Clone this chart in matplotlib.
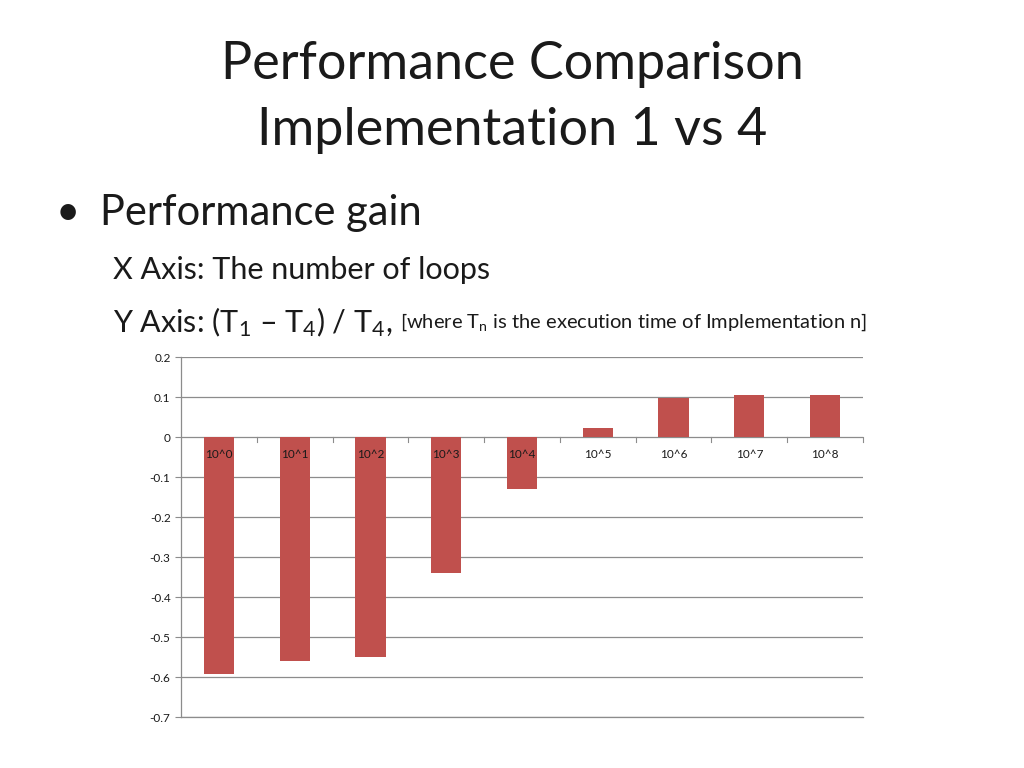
import numpy as np
import matplotlib
matplotlib.use("Agg")
import matplotlib.pyplot as plt

plt.rcParams["font.family"] = ["Lato", "DejaVu Sans"]
plt.rcParams["mathtext.fontset"] = "custom"
plt.rcParams["mathtext.rm"] = "Lato"
plt.rcParams["mathtext.it"] = "Lato"

# data
categories = ["10^0", "10^1", "10^2", "10^3", "10^4", "10^5", "10^6", "10^7", "10^8"]
gain = [-0.592, -0.561, -0.550, -0.340, -0.131, 0.022, 0.097, 0.105, 0.105]
yticks = [0.2, 0.1, 0, -0.1, -0.2, -0.3, -0.4, -0.5, -0.6, -0.7]

BAR_COLOR = "#C0504D"
GRID_COLOR = "#8C8C8C"
TEXT_COLOR = "#1a1a1a"

W, H = 1024, 768
fig = plt.figure(figsize=(W / 100, H / 100), dpi=100)

# ---- slide text ----
fig.text(512 / W, 1 - 65 / H, "Performance Comparison", ha="center", va="center",
         fontsize=37.5, color=TEXT_COLOR)
fig.text(512 / W, 1 - 130 / H, "Implementation 1 vs 4", ha="center", va="center",
         fontsize=37.5, color=TEXT_COLOR)
fig.text(56 / W, 1 - 213 / H, "\u2022", ha="left", va="center", fontsize=30, color=TEXT_COLOR)
fig.text(100 / W, 1 - 213 / H, "Performance gain", ha="left", va="center",
         fontsize=30, color=TEXT_COLOR)
fig.text(113 / W, 1 - 270 / H, "X Axis: The number of loops", ha="left", va="center",
         fontsize=22, color=TEXT_COLOR)
ylab = fig.text(113 / W, 1 - 322 / H, "Y Axis: (T$_1$ \u2013 T$_4$) / T$_4$,",
                ha="left", va="center", fontsize=22, color=TEXT_COLOR)

# place the small note right after the main Y axis line
fig.canvas.draw()
bb = ylab.get_window_extent()
fig.text((bb.x1 + 8) / W, 1 - 322 / H, r"[where T$_\mathrm{n}$ is the execution time of Implementation n]",
         ha="left", va="center", fontsize=14.5, color=TEXT_COLOR)

# ---- chart ----
ax = fig.add_axes([181 / W, 1 - 717 / H, (863 - 181) / W, (717 - 357) / H])
x = np.arange(len(categories))
ax.bar(x, gain, width=0.4, color=BAR_COLOR, zorder=3)

ax.set_xlim(-0.5, len(categories) - 0.5)
ax.set_ylim(-0.7, 0.2)
ax.set_yticks(yticks)
ax.set_yticklabels([f"{v:g}" for v in yticks])
ax.tick_params(axis="y", labelsize=8.5, colors=GRID_COLOR, labelcolor=TEXT_COLOR,
               length=4, width=0.8)
ax.grid(axis="y", color=GRID_COLOR, linewidth=0.9, zorder=0)

# x category labels sit just below the zero line
ax.set_xticks([])
for xi, lab in zip(x, categories):
    ax.text(xi, -0.045, lab, ha="center", va="center", fontsize=8.5, color=TEXT_COLOR, zorder=4)
# small tick marks between categories on the zero line
for xb in np.arange(0.5, len(categories) - 0.5 + 1e-9, 1.0):
    ax.plot([xb, xb], [0, -0.012], color=GRID_COLOR, linewidth=0.8, zorder=2, clip_on=False)

for s in ["top", "right"]:
    ax.spines[s].set_visible(False)
for s in ["left", "bottom"]:
    ax.spines[s].set_color(GRID_COLOR)
    ax.spines[s].set_linewidth(0.9)

fig.savefig("out.png", dpi=100)
